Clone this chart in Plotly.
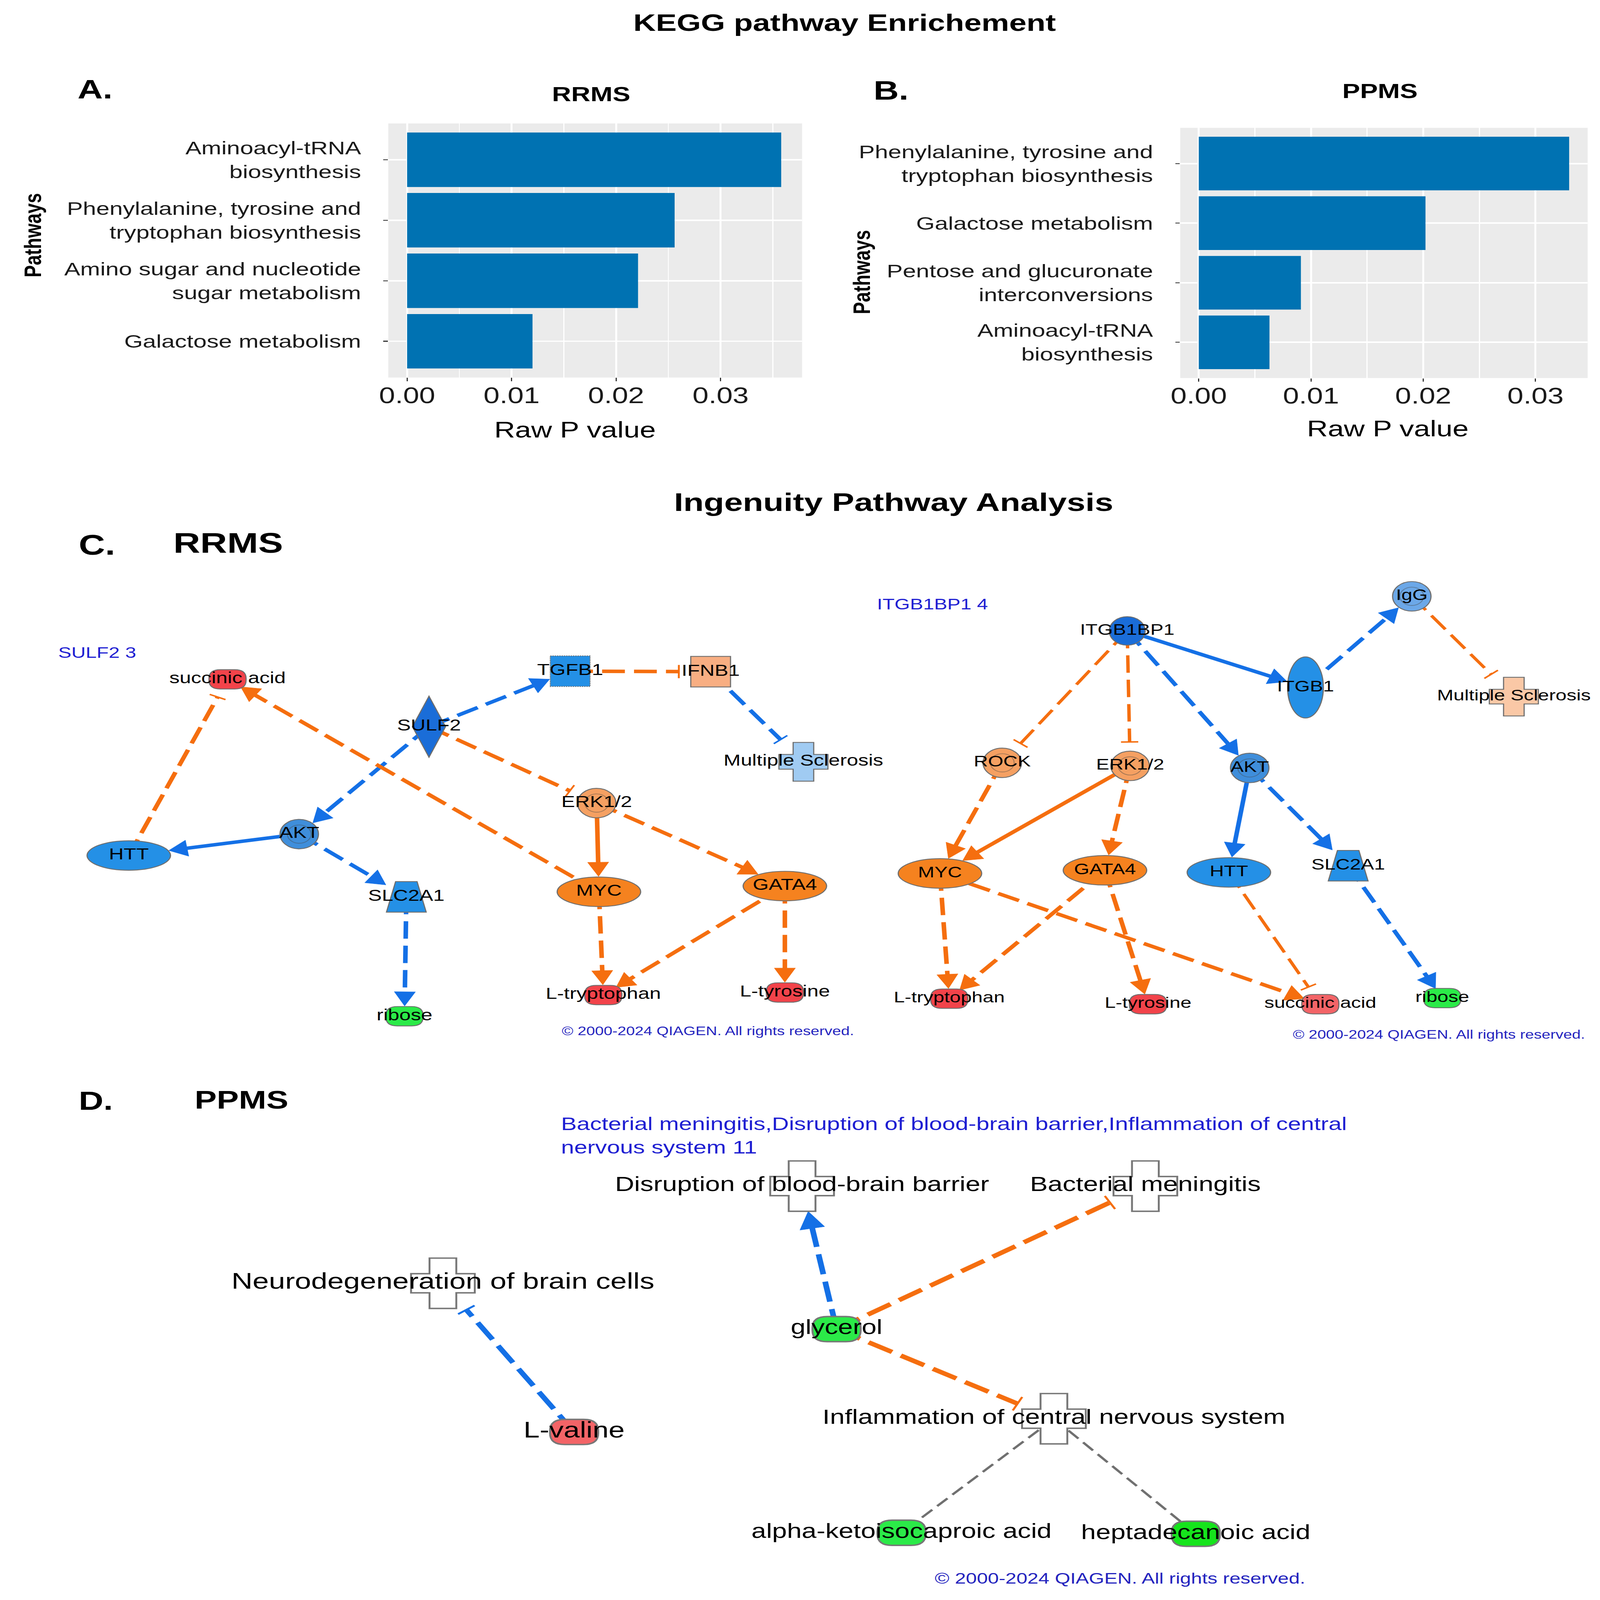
import math
import plotly.graph_objects as go

# ======================= DATA =======================
# --- KEGG pathway enrichment (A: RRMS, B: PPMS) ---
rrms_pathways = ["Aminoacyl-tRNA<br>biosynthesis",
                 "Phenylalanine, tyrosine and<br>tryptophan biosynthesis",
                 "Amino sugar and nucleotide<br>sugar metabolism",
                 "Galactose metabolism"]
rrms_raw_p = [0.0358, 0.0256, 0.0221, 0.0120]

ppms_pathways = ["Phenylalanine, tyrosine and<br>tryptophan biosynthesis",
                 "Galactose metabolism",
                 "Pentose and glucuronate<br>interconversions",
                 "Aminoacyl-tRNA<br>biosynthesis"]
ppms_raw_p = [0.0330, 0.0202, 0.0091, 0.0063]

p_tick_values = [0.0, 0.01, 0.02, 0.03]
p_tick_labels = ["0.00", "0.01", "0.02", "0.03"]
p_minor_values = [0.005, 0.015, 0.025, 0.035]

# --- IPA network C (RRMS, SULF2 network) ---
c1_nodes = ["succinic acid", "TGFB1", "IFNB1", "SULF2", "Multiple Sclerosis", "ERK1/2",
            "AKT", "HTT", "SLC2A1", "MYC", "GATA4", "L-tryptophan", "L-tyrosine", "ribose"]
c1_types = ["chemical", "growth factor", "cytokine", "enzyme", "disease", "group",
            "group", "transcription regulator", "transporter", "transcription regulator",
            "transcription regulator", "chemical", "chemical", "chemical"]
c1_regulation = ["up", "inh_mid", "act_low", "inh_high", "inh_pale", "act_mid",
                 "inh_group", "inh_mid", "inh_mid", "act_high", "act_high", "up", "up", "down"]
c1_x = [164.5, 423, 529, 316.5, 599, 443, 218.6, 90, 299.4, 444.7, 585, 448, 585, 298]
c1_y = [667, 659, 659.5, 713.5, 748, 788.5, 819, 840, 880.6, 875.6, 870, 977, 974.5, 997.8]
c1_src = ["SULF2", "TGFB1", "IFNB1", "SULF2", "SULF2", "MYC", "HTT", "AKT", "AKT", "SLC2A1",
          "ERK1/2", "ERK1/2", "MYC", "GATA4", "GATA4"]
c1_tgt = ["TGFB1", "IFNB1", "Multiple Sclerosis", "AKT", "ERK1/2", "succinic acid", "succinic acid",
          "HTT", "SLC2A1", "ribose", "MYC", "GATA4", "L-tryptophan", "L-tryptophan", "L-tyrosine"]
c1_effect = ["activation", "inhibition", "inhibition", "activation", "inhibition", "activation",
             "inhibition", "activation", "activation", "activation", "activation", "activation",
             "activation", "activation", "activation"]
c1_prediction = ["inh", "act", "inh", "inh", "act", "act", "act", "inh", "inh", "inh",
                 "act", "act", "act", "act", "act"]
c1_direct = [False, False, False, False, False, False, False, True, False, False,
             True, False, False, False, False]

# --- IPA network C (RRMS, ITGB1BP1 network) ---
c2_nodes = ["ITGB1BP1", "IgG", "ITGB1", "Multiple Sclerosis", "ROCK", "ERK1/2", "AKT", "MYC",
            "GATA4", "HTT", "SLC2A1", "L-tryptophan", "L-tyrosine", "succinic acid", "ribose"]
c2_types = ["other", "complex", "transmembrane receptor", "disease", "group", "group", "group",
            "transcription regulator", "transcription regulator", "transcription regulator",
            "transporter", "chemical", "chemical", "chemical", "chemical"]
c2_regulation = ["inh_high", "inh_low", "inh_mid", "act_pale", "act_mid", "act_mid", "inh_group",
                 "act_high", "act_high", "inh_mid", "inh_mid", "up", "up", "up_weak", "down"]
c2_x = [843.3, 1058, 977.8, 1135, 749, 845.5, 935.7, 702, 826.5, 920, 1010, 709, 859, 989, 1081]
c2_y = [619.5, 585.5, 675, 684, 749, 752, 754, 857.6, 854.5, 856.6, 850, 980.6, 986, 986, 980]
c2_src = ["ITGB1BP1", "ITGB1", "IgG", "ITGB1BP1", "ITGB1BP1", "ITGB1BP1", "ROCK", "ERK1/2",
          "ERK1/2", "AKT", "AKT", "MYC", "GATA4", "GATA4", "MYC", "HTT", "SLC2A1"]
c2_tgt = ["ITGB1", "IgG", "Multiple Sclerosis", "ROCK", "ERK1/2", "AKT", "MYC", "MYC", "GATA4",
          "HTT", "SLC2A1", "L-tryptophan", "L-tryptophan", "L-tyrosine", "succinic acid",
          "succinic acid", "ribose"]
c2_effect = ["activation", "activation", "inhibition", "inhibition", "inhibition", "activation",
             "activation", "activation", "activation", "activation", "activation", "activation",
             "activation", "activation", "activation", "inhibition", "activation"]
c2_prediction = ["inh", "inh", "act", "act", "act", "inh", "act", "act", "act", "inh", "inh",
                 "act", "act", "act", "act", "act", "inh"]
c2_direct = [True, False, False, False, False, False, False, True, False, True, False,
             False, False, False, False, False, False]

# --- IPA network D (PPMS) ---
d_nodes = ["Disruption of blood-brain barrier", "Bacterial meningitis",
           "Neurodegeneration of brain cells", "glycerol", "L-valine",
           "Inflammation of central nervous system", "alpha-ketoisocaproic acid",
           "heptadecanoic acid"]
d_types = ["function", "function", "function", "chemical", "chemical", "function",
           "chemical", "chemical"]
d_regulation = ["none", "none", "none", "down", "up_weak", "none", "down", "down_strong"]
d_x = [598, 857, 327, 624, 426, 788, 673, 895]
d_y = [1164.6, 1164.6, 1260, 1305, 1406, 1393, 1505, 1506]
d_src = ["glycerol", "glycerol", "glycerol", "L-valine",
         "Inflammation of central nervous system", "Inflammation of central nervous system"]
d_tgt = ["Disruption of blood-brain barrier", "Bacterial meningitis",
         "Inflammation of central nervous system", "Neurodegeneration of brain cells",
         "alpha-ketoisocaproic acid", "heptadecanoic acid"]
d_effect = ["activation", "inhibition", "inhibition", "inhibition", "none", "none"]
d_prediction = ["inh", "act", "act", "inh", "none", "none"]
d_direct = [False, False, False, False, False, False]

# ======================= STYLE =======================
FONT = "Liberation Sans"
BAR_COLOR = "#0072B2"
PANEL_BG = "#EBEBEB"
IPA_BLUE = "#1E1ED2"
COPY_BLUE = "#2323BE"

NODE_COLOR = {
    "up": "#F2434A", "up_weak": "#F36467", "down": "#2BEA48", "down_strong": "#16E41C",
    "act_high": "#F5821F", "act_mid": "#F5A062", "act_low": "#F8AE82", "act_pale": "#FAC8A6",
    "inh_high": "#1A6DD8", "inh_mid": "#2490E6", "inh_group": "#3F8EDB", "inh_low": "#6CA8E8",
    "inh_pale": "#A0CBF2", "none": "#FFFFFF",
}
EDGE_COLOR = {"act": "#F56E0F", "inh": "#1470E6", "none": "#707070"}

SHAPE_OF = {"chemical": "rounded", "transcription regulator": "ellipse",
            "transmembrane receptor": "ellipse", "growth factor": "square", "cytokine": "square",
            "enzyme": "diamond", "transporter": "trapezoid", "disease": "cross",
            "function": "cross", "group": "ring", "complex": "ring", "other": "ellipse"}
SIZE_OF = {"chemical": (28, 19), "transcription regulator": (63, 29),
           "transmembrane receptor": (27, 60), "growth factor": (30, 30), "cytokine": (30, 30),
           "enzyme": (25, 60), "transporter": (30, 30), "disease": (37, 38),
           "function": (37, 38), "group": (29, 29), "complex": (29, 29), "other": (27, 28)}

STYLE_C1 = dict(scale=1.0, width=12, inh_width=12, dash="60px,24px", L=14, hw=8,
                bar=6.5, gap=9, bar_w=5, outline="#6E6E6E", outline_w=3)
STYLE_C2 = dict(STYLE_C1, inh_width=9)
STYLE_D = dict(scale=1.3, width=15, inh_width=15, dash="70px,26px", L=17, hw=9.5,
               bar=7.5, gap=7, bar_w=6, outline="#777777", outline_w=5,
               gray_width=7, gray_dash="38px,18px")

# label font sizes (px) per network
C1_LABEL_SIZE = 54
C2_LABEL_SIZE = 52
D_LABEL_SIZE = [70, 70, 77, 70, 76, 70, 70, 70]


def f(v):
    return f"{v:.2f}"


def ray_dist(shape, w, h, ux, uy):
    rx, ry = w / 2.0, h / 2.0
    if shape in ("square", "trapezoid"):
        cands = []
        if abs(ux) > 1e-9:
            cands.append(rx / abs(ux))
        if abs(uy) > 1e-9:
            cands.append(ry / abs(uy))
        return min(cands)
    if shape == "diamond":
        return 1.0 / (abs(ux) / rx + abs(uy) / ry)
    return 1.0 / math.sqrt((ux / rx) ** 2 + (uy / ry) ** 2)


def node_shapes(ntype, reg, cx, cy, st):
    shape = SHAPE_OF[ntype]
    w, h = SIZE_OF[ntype]
    w *= st["scale"]
    h *= st["scale"]
    fill = NODE_COLOR[reg]
    line = dict(color=st["outline"], width=st["outline_w"])
    base = dict(xref="x3", yref="y3", layer="below", fillcolor=fill, line=line)
    x0, x1, y0, y1 = cx - w / 2, cx + w / 2, cy - h / 2, cy + h / 2
    out = []
    if shape == "ellipse":
        out.append(dict(base, type="circle", x0=x0, x1=x1, y0=y0, y1=y1))
    elif shape == "ring":
        out.append(dict(base, type="circle", x0=x0, x1=x1, y0=y0, y1=y1))
        k = 0.31
        out.append(dict(type="circle", xref="x3", yref="y3", layer="below",
                        x0=cx - w * k, x1=cx + w * k, y0=cy - h * k, y1=cy + h * k,
                        fillcolor="rgba(0,0,0,0)", line=dict(color="rgba(70,70,70,0.45)", width=2.5)))
    elif shape == "square":
        ln = dict(line)
        if ntype == "growth factor":
            ln["dash"] = "dot"
        out.append(dict(base, type="rect", x0=x0, x1=x1, y0=y0, y1=y1, line=ln))
    elif shape == "rounded":
        r = h * 0.45
        p = (f"M{f(x0 + r)},{f(y0)} L{f(x1 - r)},{f(y0)} Q{f(x1)},{f(y0)} {f(x1)},{f(y0 + r)} "
             f"L{f(x1)},{f(y1 - r)} Q{f(x1)},{f(y1)} {f(x1 - r)},{f(y1)} "
             f"L{f(x0 + r)},{f(y1)} Q{f(x0)},{f(y1)} {f(x0)},{f(y1 - r)} "
             f"L{f(x0)},{f(y0 + r)} Q{f(x0)},{f(y0)} {f(x0 + r)},{f(y0)} Z")
        out.append(dict(base, type="path", path=p))
    elif shape == "diamond":
        p = f"M{f(cx)},{f(y0)} L{f(x1)},{f(cy)} L{f(cx)},{f(y1)} L{f(x0)},{f(cy)} Z"
        out.append(dict(base, type="path", path=p))
    elif shape == "trapezoid":
        tw = w * 0.27
        p = (f"M{f(cx - tw)},{f(y0)} L{f(cx + tw)},{f(y0)} L{f(x1)},{f(y1)} "
             f"L{f(x0)},{f(y1)} Z")
        out.append(dict(base, type="path", path=p))
    elif shape == "cross":
        ax, ay = w * 0.21, h * 0.19
        p = (f"M{f(cx - ax)},{f(y0)} L{f(cx + ax)},{f(y0)} L{f(cx + ax)},{f(cy - ay)} "
             f"L{f(x1)},{f(cy - ay)} L{f(x1)},{f(cy + ay)} L{f(cx + ax)},{f(cy + ay)} "
             f"L{f(cx + ax)},{f(y1)} L{f(cx - ax)},{f(y1)} L{f(cx - ax)},{f(cy + ay)} "
             f"L{f(x0)},{f(cy + ay)} L{f(x0)},{f(cy - ay)} L{f(cx - ax)},{f(cy - ay)} Z")
        out.append(dict(base, type="path", path=p))
    return out


def network_shapes(nodes, types, regs, xs, ys, srcs, tgts, effects, preds, directs, st):
    pos = {n: (x, y) for n, x, y in zip(nodes, xs, ys)}
    typ = {n: t for n, t in zip(nodes, types)}
    shapes = []
    for s, t, eff, pr, di in zip(srcs, tgts, effects, preds, directs):
        x1, y1 = pos[s]
        x2, y2 = pos[t]
        dx, dy = x2 - x1, y2 - y1
        d = math.hypot(dx, dy)
        ux, uy = dx / d, dy / d
        px_, py_ = -uy, ux
        w, h = SIZE_OF[typ[t]]
        w *= st["scale"]
        h *= st["scale"]
        tb = ray_dist(SHAPE_OF[typ[t]], w, h, ux, uy)
        color = EDGE_COLOR[pr]
        if pr == "none":
            width, dash = st.get("gray_width", 6), st.get("gray_dash", st["dash"])
        else:
            width = st["inh_width"] if eff == "inhibition" else st["width"]
            dash = "solid" if di else st["dash"]
        if eff == "activation":
            tipx, tipy = x2 - ux * (tb + 0.5), y2 - uy * (tb + 0.5)
            bx, by = tipx - ux * st["L"], tipy - uy * st["L"]
            ex, ey = bx + ux * 1.0, by + uy * 1.0
        elif eff == "inhibition":
            bx, by = x2 - ux * (tb + st["gap"]), y2 - uy * (tb + st["gap"])
            ex, ey = bx, by
        else:
            ex, ey = x2 - ux * tb, y2 - uy * tb
        shapes.append(dict(type="line", xref="x3", yref="y3", layer="below",
                           x0=x1, y0=y1, x1=ex, y1=ey,
                           line=dict(color=color, width=width, dash=dash)))
        if eff == "activation":
            hw = st["hw"]
            p = (f"M{f(tipx)},{f(tipy)} L{f(bx + px_ * hw)},{f(by + py_ * hw)} "
                 f"L{f(bx - px_ * hw)},{f(by - py_ * hw)} Z")
            shapes.append(dict(type="path", xref="x3", yref="y3", layer="below", path=p,
                               fillcolor=color, line=dict(color=color, width=1)))
        elif eff == "inhibition":
            hb = st["bar"]
            shapes.append(dict(type="line", xref="x3", yref="y3", layer="below",
                               x0=bx + px_ * hb, y0=by + py_ * hb,
                               x1=bx - px_ * hb, y1=by - py_ * hb,
                               line=dict(color=color, width=st["bar_w"])))
    for n, t, r, x, y in zip(nodes, types, regs, xs, ys):
        shapes.extend(node_shapes(t, r, x, y, st))
    return shapes


def ann(text, x, y, size, bold=False, color="black", xanchor="center", yanchor="middle",
        textangle=0, align="center"):
    return dict(text=f"<b>{text}</b>" if bold else text, x=x, y=y, xref="x3", yref="y3",
                showarrow=False, font=dict(family=FONT, size=size, color=color),
                xanchor=xanchor, yanchor=yanchor, textangle=textangle, align=align)


# ======================= FIGURE =======================
W, H = 4209, 5510
FW, FH = 1200.0, 1571.0  # layout frame units for the overlay axis

fig = go.Figure()

fig.add_trace(go.Bar(x=rrms_raw_p, y=rrms_pathways, orientation="h", width=0.9,
                     marker=dict(color=BAR_COLOR, line=dict(width=0)),
                     xaxis="x", yaxis="y", showlegend=False, hoverinfo="skip"))
fig.add_trace(go.Bar(x=ppms_raw_p, y=ppms_pathways, orientation="h", width=0.9,
                     marker=dict(color=BAR_COLOR, line=dict(width=0)),
                     xaxis="x2", yaxis="y2", showlegend=False, hoverinfo="skip"))

for xs, ys, names, size in [(c1_x, c1_y, c1_nodes, C1_LABEL_SIZE),
                            (c2_x, c2_y, c2_nodes, C2_LABEL_SIZE),
                            (d_x, d_y, d_nodes, D_LABEL_SIZE)]:
    fig.add_trace(go.Scatter(x=xs, y=ys, mode="text", text=names, textposition="middle center",
                             textfont=dict(family=FONT, size=size, color="black"),
                             xaxis="x3", yaxis="y3", showlegend=False, hoverinfo="skip",
                             cliponaxis=False))


def bar_xaxis(dom, anchor, rng):
    return dict(domain=dom, anchor=anchor, range=rng, tickmode="array",
                tickvals=p_tick_values, ticktext=p_tick_labels, ticks="outside", ticklen=12,
                tickwidth=3, tickcolor="#333333", showgrid=True, gridcolor="white",
                gridwidth=5, zeroline=False, showline=False, ticklabelstandoff=-16,
                tickfont=dict(family=FONT, size=76, color="#1A1A1A"),
                minor=dict(tickmode="array", tickvals=p_minor_values, showgrid=True,
                           gridcolor="white", gridwidth=2.5, ticks=""),
                fixedrange=True)


def bar_yaxis(dom, anchor, cats):
    return dict(domain=dom, anchor=anchor, type="category", categoryorder="array",
                categoryarray=cats, range=[3.6, -0.6], ticks="outside", ticklen=12,
                tickwidth=3, tickcolor="#333333", showgrid=True, gridcolor="white",
                gridwidth=5, zeroline=False, showline=False, ticklabelstandoff=46,
                tickfont=dict(family=FONT, size=63, color="#1A1A1A"), fixedrange=True)


fig.update_layout(
    width=W, height=H, margin=dict(l=0, r=0, t=0, b=0),
    paper_bgcolor="white", plot_bgcolor="rgba(0,0,0,0)",
    xaxis=bar_xaxis([285.8 / FW, 598.0 / FW], "y", [-0.0018, 0.0378]),
    yaxis=bar_yaxis([1 - 370.7 / FH, 1 - 121.2 / FH], "x", rrms_pathways),
    xaxis2=bar_xaxis([883.3 / FW, 1190.7 / FW], "y2", [-0.00165, 0.03465]),
    yaxis2=bar_yaxis([1 - 371.2 / FH, 1 - 125.5 / FH], "x2", ppms_pathways),
    xaxis3=dict(domain=[0, 1], anchor="y3", range=[0, FW], visible=False, fixedrange=True),
    yaxis3=dict(domain=[0, 1], anchor="x3", range=[FH, 0], visible=False, fixedrange=True),
)

shapes = [
    dict(type="rect", xref="x domain", yref="y domain", x0=0, x1=1, y0=0, y1=1,
         fillcolor=PANEL_BG, line=dict(width=0), layer="below"),
    dict(type="rect", xref="x2 domain", yref="y2 domain", x0=0, x1=1, y0=0, y1=1,
         fillcolor=PANEL_BG, line=dict(width=0), layer="below"),
]
shapes += network_shapes(c1_nodes, c1_types, c1_regulation, c1_x, c1_y, c1_src, c1_tgt,
                         c1_effect, c1_prediction, c1_direct, STYLE_C1)
shapes += network_shapes(c2_nodes, c2_types, c2_regulation, c2_x, c2_y, c2_src, c2_tgt,
                         c2_effect, c2_prediction, c2_direct, STYLE_C2)
shapes += network_shapes(d_nodes, d_types, d_regulation, d_x, d_y, d_src, d_tgt,
                         d_effect, d_prediction, d_direct, STYLE_D)

copyright_text = "© 2000-2024 QIAGEN. All rights reserved."
annotations = [
    ann("KEGG pathway Enrichement", 630, 22, 82, bold=True),
    ann("A.", 64.5, 87.5, 92, bold=True),
    ann("RRMS", 438.7, 92.5, 70, bold=True),
    ann("B.", 665, 88.6, 92, bold=True),
    ann("PPMS", 1034, 89.4, 70, bold=True),
    ann("Pathways", 17.6, 231, 63, bold=True, textangle=-90),
    ann("Pathways", 643, 267, 63, bold=True, textangle=-90),
    ann("Raw P value", 426.6, 422, 76),
    ann("Raw P value", 1039.8, 421, 76),
    ann("Ingenuity Pathway Analysis", 667, 493, 88, bold=True),
    ann("C.", 66, 535, 96, bold=True),
    ann("RRMS", 165, 533, 98, bold=True),
    ann("SULF2 3", 36, 641, 52, color=IPA_BLUE, xanchor="left"),
    ann("ITGB1BP1 4", 654, 593, 52, color=IPA_BLUE, xanchor="left"),
    ann(copyright_text, 527, 1012.5, 41, color=COPY_BLUE),
    ann(copyright_text, 1078.5, 1016, 41, color=COPY_BLUE),
    ann("D.", 65, 1081, 90, bold=True),
    ann("PPMS", 175, 1080, 87, bold=True),
    ann("Bacterial meningitis,Disruption of blood-brain barrier,Inflammation of central"
        "<br>nervous system 11", 415.5, 1115, 62, color=IPA_BLUE, xanchor="left", align="left"),
    ann(copyright_text, 838, 1549.5, 52, color=COPY_BLUE),
]

fig.update_layout(shapes=shapes, annotations=annotations)

# The sandbox browser viewport can be smaller than the requested 4209x5510 page
# (it is capped at the screen size); scale the finished figure to fill the viewport.
fit_js = """
var gd = document.getElementById('{plot_id}');
document.documentElement.style.margin = '0';
document.body.style.margin = '0';
document.documentElement.style.overflow = 'hidden';
document.body.style.overflow = 'hidden';
var sx = Math.min(1, window.innerWidth / 4209);
var sy = Math.min(1, window.innerHeight / 5510);
if (sx < 1 || sy < 1) {
    gd.style.transformOrigin = '0 0';
    gd.style.transform = 'scale(' + sx + ',' + sy + ')';
}
"""
fig.write_html("out.html", post_script=fit_js, config={"displayModeBar": False})
